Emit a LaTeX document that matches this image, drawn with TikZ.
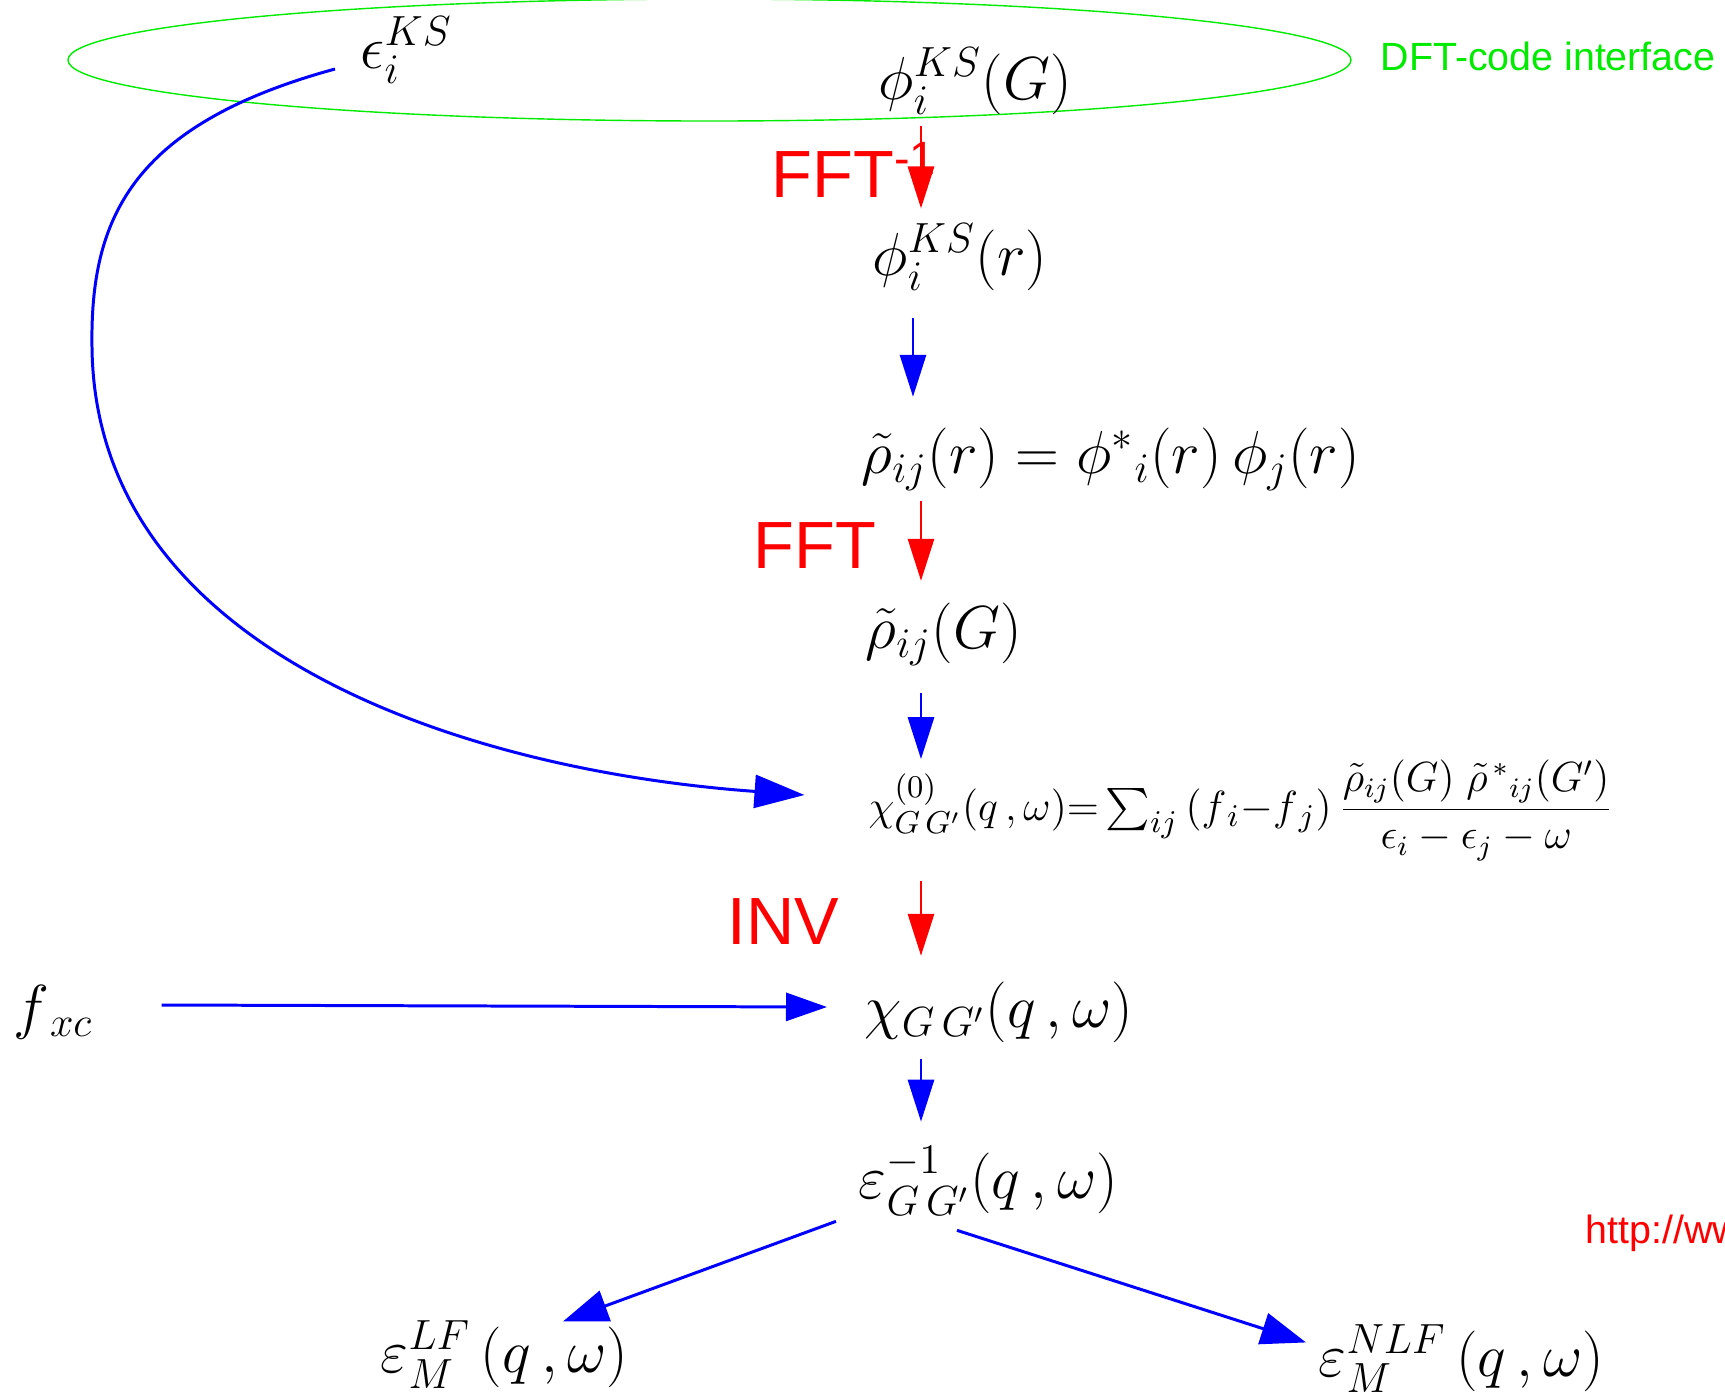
\documentclass[tikz,border=0pt]{standalone}
\usepackage{amsmath}
\usepackage{fontspec}
\setsansfont{Liberation Sans}
\usetikzlibrary{arrows.meta}

\definecolor{ifcgreen}{RGB}{0,235,0}

\tikzset{
  formula/.style={inner sep=0pt, anchor=base west, font=\fontsize{17}{20}\selectfont},
  steplabel/.style={inner sep=0pt, anchor=base west, text=red, font=\sffamily\fontsize{19}{22}\selectfont},
  notelabel/.style={inner sep=0pt, anchor=base west, font=\sffamily\fontsize{11.2}{13}\selectfont},
  flow/.style={line width=0.85pt, -{Triangle[length=4.2mm,width=2.6mm]}},
  bluearrow/.style={flow, draw=blue},
  redarrow/.style={flow, draw=red},
  ifcline/.style={draw=ifcgreen, line width=0.4pt}
}

\begin{document}
\begin{tikzpicture}[x=1cm,y=1cm]
  \useasboundingbox (0,0) rectangle (17.25,-13.96);

  % DFT code side
  \draw[ifcline] (7.095,-0.60) ellipse [x radius=6.415, y radius=0.61];
  \node[notelabel, text=ifcgreen] (interface) at (13.80,-0.70) {DFT-code interface};
  \node[notelabel, text=red] (url) at (15.85,-12.43) {http://ww};

  % quantities
  \node[formula] (epsks) at (3.60,-0.68) {$\epsilon_i^{KS}$};
  \node[formula] (phiG) at (8.78,-0.99) {$\phi_i^{KS}(G)$};
  \node[formula] (phir) at (8.72,-2.75) {$\phi_i^{KS}(r)$};
  \node[formula] (rhor) at (8.61,-4.73) {$\tilde\rho_{ij}(r)=\phi^{*}{}_{i}(r)\,\phi_{j}(r)$};
  \node[formula] (rhoG) at (8.65,-6.48) {$\tilde\rho_{ij}(G)$};
  \node[formula, font=\fontsize{13}{16}\selectfont] (chizero) at (8.68,-8.20)
    {$\chi^{(0)}_{G\,G'}(q\,,\omega){=}\sum_{ij}\,(f_{\,i}{-}f_{\,j})\,\dfrac{\text{\fontsize{11.5}{13}\selectfont$\tilde\rho_{ij}(G)\;\tilde\rho^{\,*}{}_{ij}(G')$}}{\text{\fontsize{11.5}{13}\selectfont$\epsilon_i-\epsilon_j-\omega$}}$};
  \node[formula] (fxc) at (0.13,-10.27) {$f_{\,xc}$};
  \node[formula] (chi) at (8.64,-10.27) {$\chi_{G\,G'}(q\,,\omega)$};
  \node[formula] (epsinv) at (8.58,-11.98) {$\varepsilon^{-1}_{G\,G'}(q\,,\omega)$};
  \node[formula] (epslf) at (3.80,-13.72) {$\varepsilon_M^{LF}\,(q\,,\omega)$};
  \node[formula] (epsnlf) at (13.18,-13.76) {$\varepsilon_M^{NLF}\,(q\,,\omega)$};

  % operations
  \node[steplabel] (lblfftinv) at (7.71,-1.97) {FFT\textsuperscript{-1}};
  \node[steplabel] (lblfft) at (7.53,-5.68) {FFT};
  \node[steplabel] (lblinv) at (7.27,-9.44) {INV};

  \coordinate (colA) at (9.21,0);
  \coordinate (colB) at (9.13,0);

  \draw[redarrow, shorten <=1.1mm, shorten >=1.5mm] (phiG.south -| colA) -- (phir.north -| colA);
  \draw[bluearrow, shorten <=2.7mm, shorten >=3mm] (phir.south -| colB) -- (rhor.north -| colB);
  \draw[redarrow, shorten <=1mm, shorten >=2.1mm] (rhor.south -| colA) -- (rhoG.north -| colA);
  \draw[bluearrow, shorten <=2.7mm, shorten >=0mm] (rhoG.south -| colA) -- (chizero.north -| colA);
  \draw[redarrow, shorten <=2mm, shorten >=2.5mm] (chizero.south -| colA) -- (chi.north -| colA);
  \draw[bluearrow, shorten <=1.6mm, shorten >=2.4mm] (chi.south -| colA) -- (epsinv.north -| colA);

  \draw[bluearrow, -{Triangle[length=4.1mm,width=2.8mm]}]
    ([shift={(0.68,0.22)}]fxc.base east) -- ([shift={(-0.37,0.20)}]chi.base west);
  \draw[bluearrow, -{Triangle[length=5mm,width=3.3mm]}]
    ([shift={(-0.25,-0.01)}]epsks.base west) .. controls (1.3,-1.25) and (0.9,-2.2) .. (0.92,-3.47)
    .. controls (0.95,-6.5) and (4.6,-7.7) .. ([shift={(-0.635,0.25)}]chizero.base west);
  \draw[bluearrow, -{Triangle[length=4.5mm,width=3.2mm]}]
    ([shift={(-0.22,-0.05)}]epsinv.south west) -- ([shift={(1.83,-0.01)}]epslf.north west);
  \draw[bluearrow, -{Triangle[length=4.5mm,width=3.2mm]}]
    ([shift={(0.99,-0.14)}]epsinv.south west) -- ([shift={(-0.12,-0.18)}]epsnlf.north west);
\end{tikzpicture}
\end{document}
